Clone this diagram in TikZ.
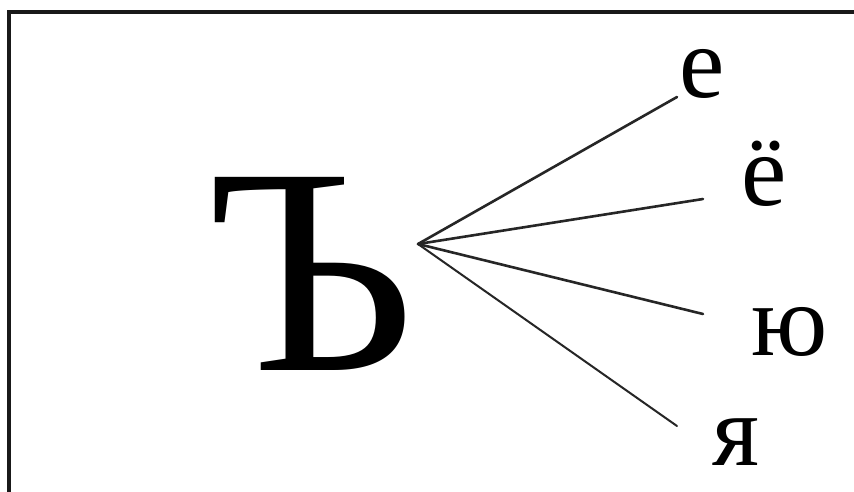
\documentclass[tikz,border=0pt]{standalone}
\usepackage{fontspec}
\setmainfont{Liberation Serif}
\usepackage{tikz}
\usetikzlibrary{positioning}

\tikzset{
  letter/.style={inner sep=0pt, anchor=base, font=\fontsize{102}{104}\selectfont},
  branch/.style={line width=2.6pt, black!85, line cap=round}
}

\begin{document}
\begin{tikzpicture}[x=1pt, y=-1pt]
  \useasboundingbox (0,0) rectangle (854,491);
  \fill[white] (0,0) rectangle (854,491);

  % Frame (top and left edges only)
  \draw[line width=3.5pt, black!90] (9,500) -- (9,12) -- (870,12);

  % Hard sign
  \node[inner sep=0pt, anchor=base, font=\fontsize{295}{300}\selectfont] (hard) at (311,370) {Ъ};

  % Vowels
  \node[letter] (ve) at (702,97) {е};
  \node[letter] (vyo) at (764,205) {ё};
  \node[letter] (vyu) at (790,355) {ю};
  \node[letter] (vya) at (736,465) {я};

  % Branches
  \coordinate (hub) at (418,244);
  \coordinate (end-e) at (677,97);
  \coordinate (end-yo) at (703,199);
  \coordinate (end-yu) at (703,314);
  \coordinate (end-ya) at (677,426);
  \foreach \tip in {end-e, end-yo, end-yu} {
    \draw[branch] (hub) -- (\tip);
  }
  \draw[branch, line width=2pt] (hub) -- (end-ya);
\end{tikzpicture}
\end{document}
